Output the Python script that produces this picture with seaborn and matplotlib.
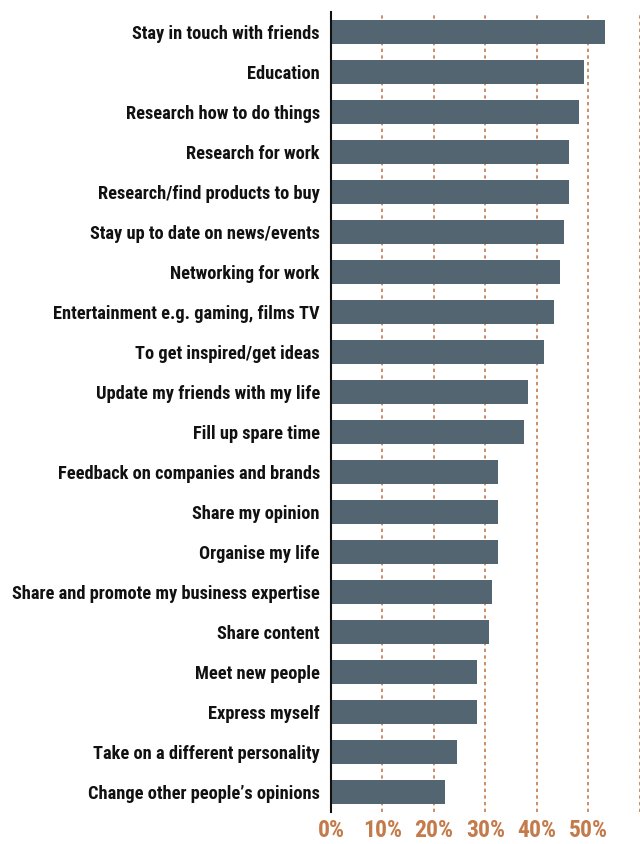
import matplotlib
matplotlib.use("Agg")
import matplotlib.pyplot as plt
import seaborn as sns
import pandas as pd

categories = [
    "Stay in touch with friends",
    "Education",
    "Research how to do things",
    "Research for work",
    "Research/find products to buy",
    "Stay up to date on news/events",
    "Networking for work",
    "Entertainment e.g. gaming, films TV",
    "To get inspired/get ideas",
    "Update my friends with my life",
    "Fill up spare time",
    "Feedback on companies and brands",
    "Share my opinion",
    "Organise my life",
    "Share and promote my business expertise",
    "Share content",
    "Meet new people",
    "Express myself",
    "Take on a different personality",
    "Change other people\u2019s opinions",
]
values = [53.3, 49.2, 48.2, 46.3, 46.3, 45.3, 44.4, 43.4, 41.4, 38.3,
          37.4, 32.5, 32.5, 32.5, 31.3, 30.7, 28.3, 28.3, 24.5, 22.2]
tick_values = [0, 10, 20, 30, 40, 50]
tick_labels = ["0%", "10%", "20%", "30%", "40%", "50%"]

df = pd.DataFrame({"category": categories, "value": values})

sns.set_style("white")
plt.rcParams["font.family"] = ["Roboto Condensed", "DejaVu Sans"]

fig = plt.figure(figsize=(6.4, 8.44), dpi=100)
ax = fig.add_axes([0.517, 0.038, 0.483, 0.948])

bar_color = "#526570"
orange = "#c47b4b"

sns.barplot(data=df, x="value", y="category", orient="h", color=bar_color,
            width=0.6, saturation=1, ax=ax, zorder=3, linewidth=0)

ax.set_xlim(0, 60)
ax.set_ylim(19.5, -0.5)
for g in [10, 20, 30, 40, 50, 60]:
    ax.axvline(g, color=orange, linestyle=(0, (2, 2)), linewidth=1.2, zorder=1)

ax.set_xticks(tick_values)
ax.set_xticklabels(tick_labels, fontsize=17, fontweight="heavy", color=orange)
ax.tick_params(axis="x", length=0, pad=5)
ax.tick_params(axis="y", length=0, pad=8)
for lab in ax.get_yticklabels():
    lab.set_fontsize(13.2)
    lab.set_fontweight("heavy")
    lab.set_color("#111111")

ax.set_xlabel("")
ax.set_ylabel("")
for s in ["top", "right", "bottom"]:
    ax.spines[s].set_visible(False)
ax.spines["left"].set_color("#111111")
ax.spines["left"].set_linewidth(1.5)
ax.spines["left"].set_zorder(4)

fig.savefig("out.png", dpi=100)
